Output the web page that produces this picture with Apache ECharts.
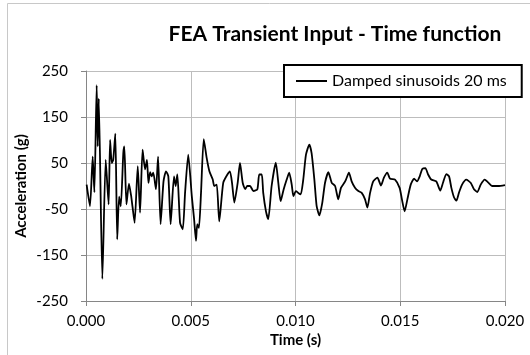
<!DOCTYPE html>
<html>
<head>
<meta charset="utf-8">
<script src="https://cdn.jsdelivr.net/npm/echarts@6/dist/echarts.min.js"></script>
<style>
html,body{margin:0;padding:0;background:#fff;}
#chart{width:530px;height:355px;}
</style>
</head>
<body>
<div id="chart"></div>
<script>
// Time (s) samples
var times = [
  0.00003,0.00019,0.00032,0.00040,0.00051,0.00056,0.00061,0.00078,0.00094,0.00108,
  0.00115,0.00123,0.00130,0.00140,0.00149,0.00158,0.00166,0.00178,0.00183,0.00193,
  0.00205,0.00215,0.00222,0.00232,0.00247,0.00258,0.00270,0.00282,0.00291,0.00298,
  0.00306,0.00313,0.00321,0.00334,0.00344,0.00356,0.00370,0.00382,0.00393,0.00404,
  0.00420,0.00428,0.00436,0.00449,0.00462,0.00473,0.00488,0.00505,0.00516,0.00525,
  0.00531,0.00539,0.00549,0.00562,0.00576,0.00589,0.00605,0.00612,0.00624,0.00636,
  0.00655,0.00675,0.00687,0.00697,0.00708,0.00724,0.00735,0.00748,0.00760,0.00770,
  0.00783,0.00799,0.00818,0.00827,0.00839,0.00846,0.00859,0.00870,0.00886,0.00906,
  0.00918,0.00929,0.00943,0.00958,0.00970,0.00982,0.00990,0.01002,0.01013,0.01025,
  0.01037,0.01050,0.01066,0.01077,0.01090,0.01101,0.01114,0.01128,0.01141,0.01157,
  0.01173,0.01189,0.01204,0.01217,0.01233,0.01241,0.01255,0.01268,0.01284,0.01300,
  0.01316,0.01332,0.01343,0.01356,0.01371,0.01391,0.01408,0.01422,0.01438,0.01451,
  0.01475,0.01497,0.01508,0.01521,0.01534,0.01550,0.01566,0.01580,0.01593,0.01605,
  0.01620,0.01633,0.01648,0.01672,0.01691,0.01704,0.01720,0.01733,0.01744,0.01757,
  0.01768,0.01780,0.01795,0.01815,0.01836,0.01852,0.01868,0.01884,0.01903,0.01919,
  0.01938,0.01967,0.02000
];
// Acceleration (g) values
var accel = [
  3,-44,64,-14,219,86,190,-202,57,-40,
  100,50,57,114,-116,-23,-44,71,86,-40,
  5,-20,-45,-80,43,-58,79,36,57,7,
  30,21,29,-7,64,-83,10,32,21,-83,
  21,0,25,-80,-94,-14,68,-22,-72,-119,
  -83,-91,-15,102,61,32,14,0,3,-77,
  7,25,32,7,-36,7,50,7,-7,0,
  0,-11,-7,25,25,-15,-55,-72,0,51,
  7,-33,-8,14,29,3,-22,-11,-15,-18,
  14,68,90,71,14,-44,-64,-36,7,30,
  7,0,-29,-4,7,14,29,10,-4,-11,
  -15,-29,-47,-15,10,18,1,18,29,16,
  14,-4,-29,-55,-29,3,16,10,21,37,
  39,25,14,10,-10,7,26,21,-4,-25,
  -32,-15,3,14,7,-7,-13,3,14,8,
  0,0,2
];
var seriesName = 'Damped sinusoids 20 ms';
var titleText = 'FEA Transient Input - Time function';
var xTitle = 'Time (s)';
var yTitle = 'Acceleration (g)';

var data = times.map(function (t, i) { return [t, accel[i]]; });
var font = 'Lato, "Liberation Sans", sans-serif';

var chart = echarts.init(document.getElementById('chart'), null, {renderer: 'canvas'});
chart.setOption({
  backgroundColor: '#ffffff',
  animation: false,
  title: {
    text: titleText,
    left: 330,
    textAlign: 'center',
    top: 19,
    textStyle: {fontFamily: font, fontWeight: 'bold', fontSize: 21, color: '#000'}
  },
  legend: {
    data: [seriesName],
    left: 284,
    top: 65,
    padding: [8, 15, 8, 12],
    itemGap: 4,
    itemWidth: 31,
    itemHeight: 2,
    icon: 'rect',
    backgroundColor: '#ffffff',
    borderColor: '#000000',
    borderWidth: 2,
    borderRadius: 0,
    textStyle: {fontFamily: font, fontSize: 16, color: '#000'}
  },
  graphic: [{
    type: 'rect',
    shape: {x: 7.5, y: 3.5, width: 600, height: 400},
    style: {fill: 'none', stroke: '#c8c8c8', lineWidth: 1},
    silent: true,
    z: -1
  }],
  grid: {left: 86, right: 25, top: 71, bottom: 54, containLabel: false},
  xAxis: {
    type: 'value',
    min: 0, max: 0.02, interval: 0.005,
    name: xTitle,
    nameLocation: 'middle',
    nameGap: 32,
    nameMoveOverlap: false,
    nameTextStyle: {fontFamily: font, fontWeight: 'bold', fontSize: 15, color: '#000'},
    axisLine: {show: true, onZero: false, lineStyle: {color: '#868686', width: 1}},
    axisTick: {show: true, inside: false, length: 5, lineStyle: {color: '#868686'}},
    axisLabel: {fontFamily: font, fontSize: 15, color: '#000', margin: 13,
      formatter: function (v) { return v.toFixed(3); }},
    splitLine: {show: true, lineStyle: {color: '#bdbdbd', width: 1}}
  },
  yAxis: {
    type: 'value',
    min: -250, max: 250, interval: 100,
    name: yTitle,
    nameLocation: 'middle',
    nameRotate: 90,
    nameGap: 57,
    nameMoveOverlap: false,
    nameTextStyle: {fontFamily: font, fontWeight: 'bold', fontSize: 15, color: '#000'},
    axisLine: {show: true, onZero: false, lineStyle: {color: '#868686', width: 1}},
    axisTick: {show: true, inside: false, length: 5, lineStyle: {color: '#868686'}},
    axisLabel: {fontFamily: font, fontSize: 15, color: '#000', margin: 18},
    splitLine: {show: true, lineStyle: {color: '#bdbdbd', width: 1}}
  },
  series: [{
    name: seriesName,
    type: 'line',
    data: data,
    showSymbol: false,
    symbol: 'none',
    smooth: 0.2,
    lineStyle: {color: '#000000', width: 1.8, join: 'round'},
    itemStyle: {color: '#000000'}
  }]
});
</script>
</body>
</html>
